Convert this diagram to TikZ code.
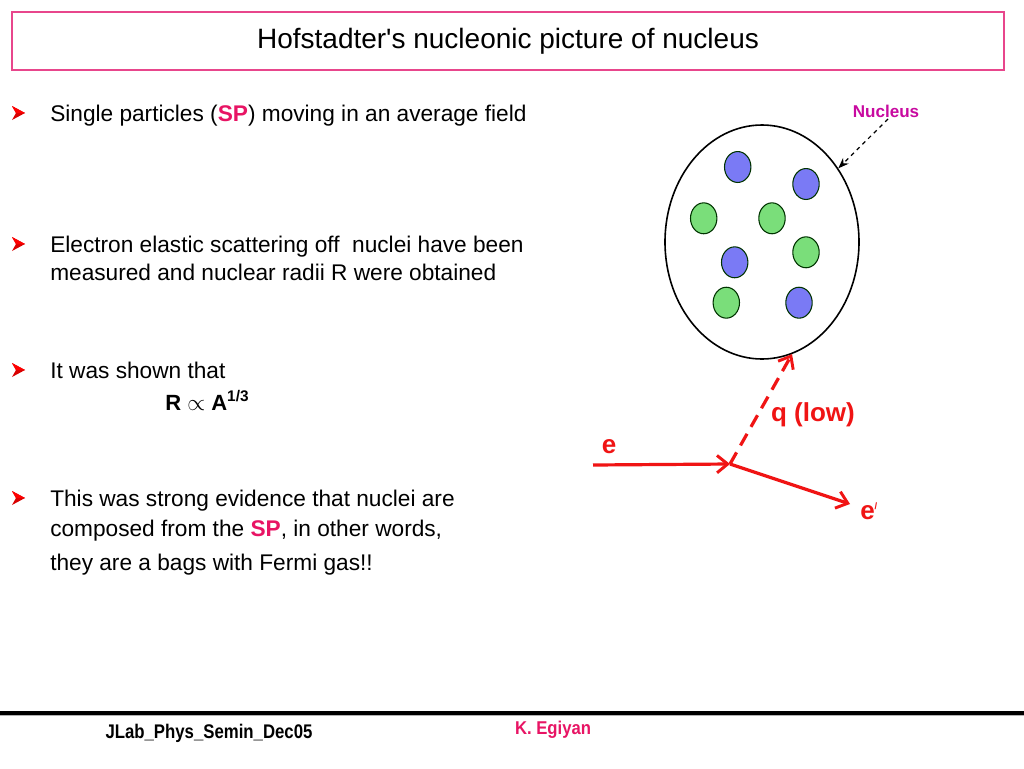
\documentclass[tikz,border=0pt]{standalone}
\usepackage{fontspec}
\setmainfont{Liberation Sans}[Ligatures=TeXOff]
\usetikzlibrary{shapes.geometric,arrows.meta}
\definecolor{sppink}{RGB}{232,20,100}
\definecolor{framepink}{RGB}{232,70,140}
\definecolor{nucmag}{RGB}{200,10,160}
\definecolor{protonblue}{RGB}{122,122,245}
\definecolor{neutrongreen}{RGB}{122,222,122}
\definecolor{ered}{RGB}{240,20,20}
\begin{document}
\begin{tikzpicture}[x=0.75pt,y=-0.75pt,
  body/.style={anchor=base west,inner sep=0pt,font=\fontsize{17pt}{20pt}\selectfont},
  proton/.style={ellipse,draw=black!80!green,line width=0.8pt,fill=protonblue,minimum width=19.8pt,minimum height=23.2pt,inner sep=0pt},
  neutron/.style={ellipse,draw=black!80!green,line width=0.8pt,fill=neutrongreen,minimum width=19.8pt,minimum height=23.2pt,inner sep=0pt},
  eline/.style={draw=ered,line width=2.4pt,-{Straight Barb[length=8pt,width=13pt,line width=2.2pt]}},
  elabel/.style={text=ered,font=\bfseries\fontsize{19.5pt}{22pt}\selectfont,inner sep=0pt}]
\useasboundingbox (0,0) rectangle (1024,768);
\fill[white] (0,0) rectangle (1024,768);
% title
\node[draw=framepink,line width=1.1pt,minimum width=744pt,minimum height=43.5pt,inner sep=0pt,
  font=\fontsize{21pt}{24pt}\selectfont] (title) at (508,41) {Hofstadter's nucleonic picture of nucleus};
% bullets
\foreach \y in {113,244,370,498}{
  \fill[red!85!black] (12,\y-7) -- (25,\y) -- (12,\y+7) -- (16,\y) -- cycle;
  \fill[red] (12,\y-7) -- (25,\y) -- (16,\y) -- cycle;
}
\node[body] (b1) at (50,121) {Single particles (\textcolor{sppink}{\bfseries SP}) moving in an average field};
\node[body] (b2a) at (50,252) {Electron elastic scattering off\ \ nuclei have been};
\node[body] (b2b) at (50,280) {measured and nuclear radii R were obtained};
\node[body] (b3) at (50,378) {It was shown that};
\node[anchor=base west,inner sep=0pt,font=\bfseries\fontsize{16.5pt}{19pt}\selectfont] (law) at (165,410)
  {R $\propto$ A\textsuperscript{1/3}};
\node[body] (b4a) at (50,506) {This was strong evidence that nuclei are};
\node[body] (b4b) at (50,536) {composed from the \textcolor{sppink}{\bfseries SP}, in other words,};
\node[body] (b4c) at (50,570) {they are a bags with Fermi gas!!};
% nucleus
\node[ellipse,draw,line width=1.2pt,minimum width=145.5pt,minimum height=175.5pt,inner sep=0pt] (nuc) at (762,242) {};
\node[proton] (p1) at (737.7,167) {};
\node[proton] (p2) at (806,184) {};
\node[neutron] (n1) at (703.7,218.3) {};
\node[neutron] (n2) at (772,218.3) {};
\node[proton] (p3) at (734.7,262.3) {};
\node[neutron] (n3) at (806,252.3) {};
\node[neutron] (n4) at (726.3,302.7) {};
\node[proton] (p4) at (799,302.7) {};
\node[text=nucmag,font=\bfseries\fontsize{12.8pt}{14pt}\selectfont,inner sep=0pt] (nuclabel) at (886,111) {Nucleus};
\draw[dashed,line width=0.9pt,-{Stealth[length=8pt,width=6pt]}] (888,119) -- (nuc.44);
% scattering
\coordinate (ein) at (593,465);
\coordinate (v) at (730,464);
\coordinate (eout) at (850,504);
\draw[eline] (ein) -- (v);
\draw[eline] (v) -- (eout);
\draw[eline,dash pattern=on 10pt off 6pt] (v) -- (nuc.-75);
\node[elabel] (elab) at (609,447) {e};
\node[elabel] (qlab) at (813,415) {q (low)};
\node[elabel,anchor=west] (eplab) at (860,511) {e\textsuperscript{\fontsize{7pt}{8pt}\selectfont /}};
% footer
\draw[line width=2.4pt] (0,713) -- (1024,713);
\draw[gray!60,line width=0.8pt] (0,715.8) -- (1024,715.8);
\node[font=\bfseries\fontsize{14.8pt}{16pt}\selectfont,inner sep=0pt] (foot) at (209,733) {\scalebox{0.85}[1]{JLab\_Phys\_Semin\_Dec05}};
\node[text=sppink,font=\bfseries\fontsize{13.9pt}{15pt}\selectfont,inner sep=0pt] (author) at (553,730) {\scalebox{0.9}[1]{K. Egiyan}};
\end{tikzpicture}
\end{document}
